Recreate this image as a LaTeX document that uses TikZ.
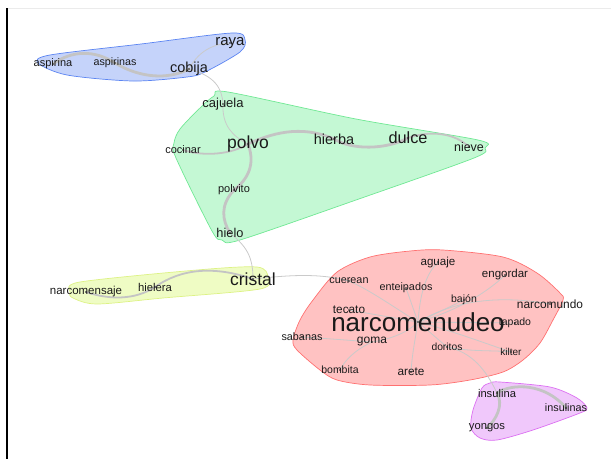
\documentclass[tikz,border=0pt]{standalone}
\usepackage{fontspec}
\setmainfont{Liberation Sans}
\pgfdeclarelayer{hulls}
\pgfdeclarelayer{edges}
\pgfsetlayers{hulls,edges,main}
\definecolor{bluefill}{HTML}{C5D3FA}\definecolor{bluedraw}{HTML}{5C85F2}
\definecolor{greenfill}{HTML}{C4F8D4}\definecolor{greendraw}{HTML}{70E894}
\definecolor{yellowfill}{HTML}{EFFCC4}\definecolor{yellowdraw}{HTML}{DDF285}
\definecolor{redfill}{HTML}{FFC2C2}\definecolor{reddraw}{HTML}{FF7070}
\definecolor{purplefill}{HTML}{F0C8FB}\definecolor{purpledraw}{HTML}{DC70F2}
\definecolor{edgegray}{HTML}{C4C4C4}
\definecolor{txt}{HTML}{1A1A1A}
\tikzset{
  lbl/.style={inner sep=0pt, text=txt, font=\fontsize{#1}{#1}\selectfont},
  hull/.style={line width=0.7pt, smooth cycle, tension=0.5},
  heavyedge/.style={draw=edgegray, line width=2.8pt, line cap=round},
  mededge/.style={draw=edgegray, line width=1.8pt, line cap=round},
  lightedge/.style={draw=edgegray!90, line width=0.8pt},
  vdot/.style={fill=txt},
}
\begin{document}
\begin{tikzpicture}[x=1pt,y=-1pt]
\useasboundingbox (0,0) rectangle (611,459);
% frame
\draw[black!8, line width=1pt] (7,8) -- (611,8);
\draw[black, line width=1.6pt] (7,8) -- (7,459);
% hulls
\begin{pgfonlayer}{hulls}
\draw[hull, fill=bluefill, draw=bluedraw] plot coordinates {(38,63) (50,55) (141,44) (232,33) (245,40) (240,52) (205,72) (187,77) (133,81) (67,75)};
\draw[hull, fill=greenfill, draw=greendraw] plot coordinates {(214,96) (228,92) (356,119) (478,140) (485,148) (474,158) (356,200) (240,240) (222,240) (212,231) (176,158) (174,143) (180,129) (200,108)};
\draw[hull, fill=yellowfill, draw=yellowdraw] plot coordinates {(70,292) (80,282) (197,270) (257,267) (268,277) (260,289) (163,298) (97,304) (73,298)};
\draw[hull, fill=redfill, draw=reddraw] plot coordinates {(337,272) (370,257) (410,251) (443,250) (503,257) (537,273) (560,293) (563,300) (553,320) (540,343) (523,360) (503,372) (470,380) (430,385) (370,385) (337,380) (320,370) (297,350) (293,340) (300,320) (313,300)};
\draw[hull, fill=purplefill, draw=purpledraw] plot coordinates {(490,383) (500,382) (550,387) (577,398) (587,408) (580,413) (533,430) (497,440) (480,438) (471,428) (473,410) (482,388)};
\end{pgfonlayer}
% label nodes
\node[lbl=11] (aspirina) at (53,64) {aspirina};
\node[lbl=10.7] (aspirinas) at (115,63) {aspirinas};
\node[lbl=14.5] (cobija) at (189,69) {cobija};
\node[lbl=15] (raya) at (230,43) {raya};
\node[lbl=13] (cajuela) at (223,104) {cajuela};
\node[lbl=11] (cocinar) at (183,150) {cocinar};
\node[lbl=17.5] (polvo) at (248,144) {polvo};
\node[lbl=14.5] (hierba) at (334,139) {hierba};
\node[lbl=16.3] (dulce) at (408,138) {dulce};
\node[lbl=12.5] (nieve) at (469,147) {nieve};
\node[lbl=11] (polvito) at (234,190) {polvito};
\node[lbl=12.8] (hielo) at (230,233) {hielo};
\node[lbl=11.5] (narcomensaje) at (86,292) {narcomensaje};
\node[lbl=11.3] (hielera) at (155,287) {hielera};
\node[lbl=17.5] (cristal) at (253,279) {cristal};
\node[lbl=11.6] (aguaje) at (438,262) {aguaje};
\node[lbl=11.5] (engordar) at (505,275) {engordar};
\node[lbl=10.8] (cuerean) at (349,281) {cuerean};
\node[lbl=10.8] (enteipados) at (406,288) {enteipados};
\node[lbl=10.5] (bajon) at (464,300) {bajón};
\node[lbl=11.9] (narcomundo) at (550,304) {narcomundo};
\node[lbl=11.8] (tecato) at (349,310) {tecato};
\node[lbl=10.5] (tapado) at (515,323) {tapado};
\node[lbl=10.8] (sabanas) at (302,337) {sabanas};
\node[lbl=12] (goma) at (372,342) {goma};
\node[lbl=10.3] (doritos) at (447,347) {doritos};
\node[lbl=10] (kilter) at (511,352) {kilter};
\node[lbl=10.5] (bombita) at (340,370) {bombita};
\node[lbl=11.8] (arete) at (411,372) {arete};
\node[lbl=26] (narcomenudeo) at (418,322) {narcomenudeo};
\node[lbl=11.2] (insulina) at (497,393) {insulina};
\node[lbl=10.8] (insulinas) at (566,408) {insulinas};
\node[lbl=11.2] (yongos) at (487,428) {yongos};
% edges
\begin{pgfonlayer}{edges}
% blue
\draw[heavyedge] (aspirina.center) .. controls (72,50) and (95,50) .. (aspirinas.center);
\draw[heavyedge] (aspirinas.center) .. controls (140,78) and (168,80) .. (cobija.center);
\draw[lightedge] (cobija.center) .. controls (198,52) and (212,44) .. (raya.center);
\draw[lightedge] (cobija.center) .. controls (215,76) and (222,88) .. (cajuela.center);
% green
\draw[lightedge] (cajuela.center) .. controls (222,125) and (232,136) .. (polvo.center);
\draw[mededge] (cocinar.center) .. controls (205,157) and (232,154) .. (polvo.center);
\draw[heavyedge] (polvo.center) .. controls (270,134) and (300,124) .. (hierba.center);
\draw[heavyedge] (hierba.center) .. controls (352,150) and (385,150) .. (dulce.center);
\draw[mededge] (dulce.center) .. controls (430,130) and (455,133) .. (nieve.center);
\draw[heavyedge] (polvo.center) .. controls (254,160) and (252,176) .. (polvito.center);
\draw[heavyedge] (polvito.center) .. controls (220,205) and (222,220) .. (hielo.center);
\draw[lightedge] (hielo.center) .. controls (246,246) and (253,256) .. (cristal.center);
% yellow
\draw[mededge] (cristal.center) .. controls (215,266) and (182,268) .. (hielera.center);
\draw[mededge] (hielera.center) .. controls (135,300) and (110,300) .. (narcomensaje.center);
\draw[lightedge] (cristal.center) .. controls (290,275) and (320,273) .. (cuerean.center);
% red
\draw[lightedge] (narcomenudeo.center) .. controls (395,308) and (370,290) .. (cuerean.center);
\draw[lightedge] (narcomenudeo.center) -- (enteipados.center);
\draw[lightedge] (narcomenudeo.center) .. controls (420,295) and (425,275) .. (aguaje.center);
\draw[lightedge] (narcomenudeo.center) .. controls (460,310) and (490,290) .. (engordar.center);
\draw[lightedge] (narcomenudeo.center) -- (bajon.center);
\draw[lightedge] (narcomenudeo.center) .. controls (455,300) and (500,295) .. (narcomundo.center);
\draw[lightedge] (narcomenudeo.center) -- (tecato.center);
\draw[lightedge] (narcomenudeo.center) -- (tapado.center);
\draw[lightedge] (narcomenudeo.center) .. controls (405,335) and (385,340) .. (goma.center);
\draw[lightedge] (narcomenudeo.center) -- (doritos.center);
\draw[lightedge] (narcomenudeo.center) .. controls (450,330) and (490,345) .. (kilter.center);
\draw[lightedge] (narcomenudeo.center) .. controls (415,340) and (412,355) .. (arete.center);
\draw[lightedge] (goma.center) .. controls (345,340) and (320,338) .. (sabanas.center);
\draw[lightedge] (goma.center) .. controls (355,350) and (345,360) .. (bombita.center);
\draw[lightedge] (doritos.center) .. controls (470,352) and (495,350) .. (kilter.center);
\draw[lightedge] (doritos.center) .. controls (472,352) and (486,370) .. (insulina.center);
% purple
\draw[heavyedge] (insulina.center) .. controls (512,383) and (545,383) .. (insulinas.center);
\draw[heavyedge] (insulina.center) .. controls (504,405) and (496,420) .. (yongos.center);
\end{pgfonlayer}
% vertex dots
\foreach \n in {aspirina,aspirinas,cobija,raya,cajuela,cocinar,polvo,hierba,dulce,nieve,polvito,hielo,narcomensaje,hielera,cristal,aguaje,engordar,cuerean,enteipados,bajon,narcomundo,tecato,tapado,sabanas,goma,doritos,kilter,bombita,arete,narcomenudeo,insulina,insulinas,yongos}
  \fill[vdot] (\n.center) circle (0.9);
\end{tikzpicture}
\end{document}
